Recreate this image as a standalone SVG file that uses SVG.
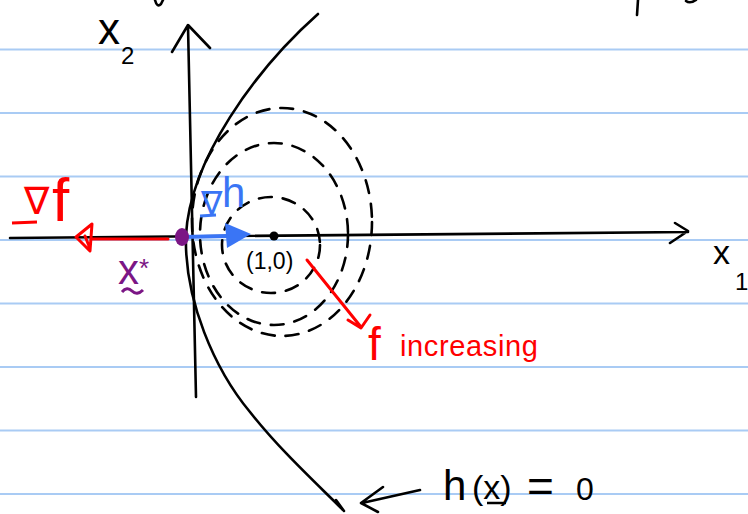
<svg xmlns="http://www.w3.org/2000/svg" width="748" height="514" viewBox="0 0 748 514">
<style>
.rule{stroke:#a9cbf4;stroke-width:2}
.ink{fill:none;stroke:#000;stroke-width:2.6;stroke-linecap:round;stroke-linejoin:round}
.dash{fill:none;stroke:#000;stroke-width:2.6;stroke-dasharray:13 11;stroke-linecap:round}
.red{fill:none;stroke:#f00;stroke-width:3;stroke-linecap:round;stroke-linejoin:round}
.blue{fill:none;stroke:#3a75f5;stroke-width:4;stroke-linecap:round;stroke-linejoin:round}
.t{font-family:"Liberation Sans","DejaVu Sans",sans-serif}
</style>
<rect width="748" height="514" fill="#fff"/>
<g id="ruling">
<line class="rule" x1="0" y1="49.5" x2="748" y2="49.5"/>
<line class="rule" x1="0" y1="113" x2="748" y2="113"/>
<line class="rule" x1="0" y1="176.5" x2="748" y2="176.5"/>
<line class="rule" x1="0" y1="240" x2="748" y2="240"/>
<line class="rule" x1="0" y1="303.5" x2="748" y2="303.5"/>
<line class="rule" x1="0" y1="367" x2="748" y2="367"/>
<line class="rule" x1="0" y1="430.5" x2="748" y2="430.5"/>
<line class="rule" x1="0" y1="494" x2="748" y2="494"/>
</g>
<g id="fragments">
<path class="ink" d="M155,0 Q157,8 161,4 L163,0"/>
<path class="ink" d="M638,0 L637,15"/>
<path class="ink" d="M686,1 Q690,4 696,0"/>
</g>
<g id="contours">
<ellipse class="dash" cx="282" cy="222" rx="90" ry="114"/>
<ellipse class="dash" cx="274" cy="234" rx="74" ry="91" stroke-dasharray="11 13 2 13"/>
<ellipse class="dash" cx="271" cy="245" rx="49" ry="48"/>
</g>
<g id="connectors">
<path id="x2-axis" class="ink" d="M196,397 L188,26 M172,52 L188,25 L210,48"/>
<path id="x1-axis" class="ink" d="M10,238 L688,232 M675,223 L688,231 L670,243"/>
<path id="constraint" class="ink" d="M318,14 C255,70 190,160 186,235 C184,300 215,370 250,412 C280,450 315,482 343,510 M336,500 L344,511"/>
<path id="label-arrow" class="ink" d="M420,490 L362,503 M383,487 L361,503 L378,512"/>
<path id="grad-f" class="red" d="M168,239 L92,239 M92,224 L76,237 L90,251 Z M85,236 L89,246"/>
<path id="increasing" class="red" d="M307,260 L361,327 M348,320 L361,328 L370,315"/>
<path id="grad-h" class="blue" d="M183,237 L228,236"/>
<polygon points="225,223 251,234 227,248" fill="#3a75f5"/>
</g>
<g id="optimum">
<ellipse cx="182" cy="237" rx="7" ry="9" fill="#7b1685"/>
<text class="t" x="118" y="284" font-size="42" fill="#7b1685">x</text>
<text class="t" x="139" y="277" font-size="26" fill="#7b1685">*</text>
<path d="M122,292 Q127,286 132,291 T143,290" fill="none" stroke="#7b1685" stroke-width="3"/>
</g>
<g id="center">
<circle cx="274" cy="236" r="4.5" fill="#000"/>
<text class="t" x="246" y="269" font-size="23" fill="#000">(1,0)</text>
</g>
<g id="label-x2">
<text class="t" x="98" y="44" font-size="44" fill="#000">x</text>
<text class="t" x="121" y="64" font-size="24" fill="#000">2</text>
</g>
<g id="label-x1">
<text class="t" x="713" y="264" font-size="34" fill="#000">x</text>
<text class="t" x="735" y="290" font-size="24" fill="#000">1</text>
</g>
<g id="label-grad-f">
<text class="t" x="24" y="214" font-size="38" fill="#f00">∇</text>
<text class="t" x="52" y="221" font-size="62" fill="#f00">f</text>
<line x1="12" y1="223" x2="37" y2="222" stroke="#f00" stroke-width="3"/>
</g>
<g id="label-grad-h">
<text class="t" x="201" y="214" font-size="32" fill="#3a75f5">∇</text>
<text class="t" x="222" y="207" font-size="42" fill="#3a75f5">h</text>
<line x1="200" y1="216" x2="216" y2="215" stroke="#3a75f5" stroke-width="3"/>
</g>
<g id="label-f-increasing">
<text class="t" x="368" y="360" font-size="46" fill="#f00">f</text>
<text class="t" x="400" y="356" font-size="29" fill="#f00" textLength="138" lengthAdjust="spacing">increasing</text>
</g>
<g id="label-h">
<text class="t" x="443" y="500" font-size="42" fill="#000">h</text>
<text class="t" x="472" y="499" font-size="34" fill="#000">(x)</text>
<line x1="487" y1="503" x2="506" y2="503" stroke="#000" stroke-width="2.5"/>
<text class="t" x="527" y="502" font-size="46" fill="#000">=</text>
<text class="t" x="576" y="500" font-size="32" fill="#000">0</text>
</g>
</svg>
